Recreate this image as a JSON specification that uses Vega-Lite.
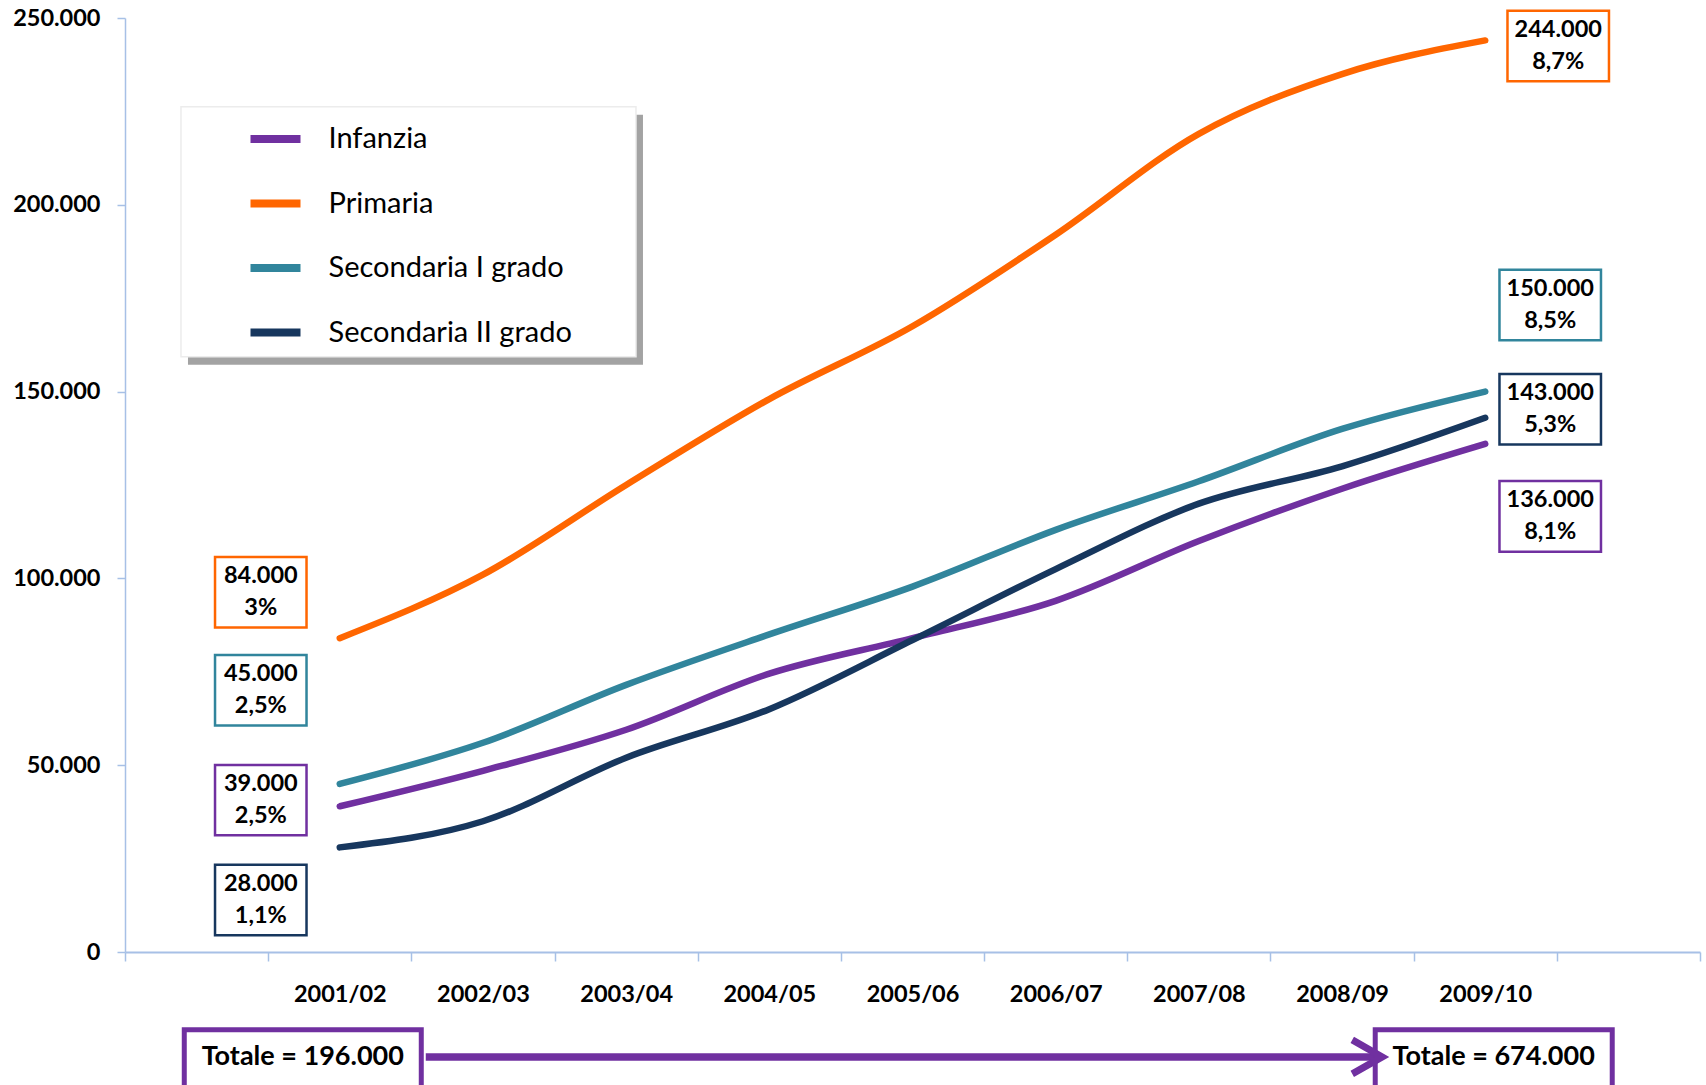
{
  "$schema": "https://vega.github.io/schema/vega-lite/v6.json",
  "width": 1575,
  "height": 934,
  "autosize": {"type": "none"},
  "padding": {"left": 125, "top": 18, "right": 6, "bottom": 133},
  "background": "white",
  "config": {
    "view": {"stroke": null},
    "font": "Lato",
    "locale": {"number": {"decimal": ",", "thousands": ".", "grouping": [3], "currency": ["€", ""]}},
    "axisX": {"domainColor": "#a7c0e6", "domainWidth": 2, "tickColor": "#a7c0e6", "tickWidth": 1.5, "tickSize": 9, "tickBand": "extent", "labelFont": "Lato", "labelFontWeight": "bold", "labelFontSize": 23.5, "labelColor": "#000000", "labelPadding": 21, "labelAngle": 0, "grid": false},
    "axisY": {"domainColor": "#a7c0e6", "domainWidth": 1.5, "tickColor": "#a7c0e6", "tickWidth": 1.5, "tickSize": 8, "labelFont": "Lato", "labelFontWeight": "bold", "labelFontSize": 23.5, "labelColor": "#000000", "labelPadding": 17, "grid": false}
  },
  "datasets": {
    "series": [
      {"series": "Infanzia", "year": "2001/02", "value": 39000},
      {"series": "Infanzia", "year": "2002/03", "value": 48500},
      {"series": "Infanzia", "year": "2003/04", "value": 59500},
      {"series": "Infanzia", "year": "2004/05", "value": 74500},
      {"series": "Infanzia", "year": "2005/06", "value": 84000},
      {"series": "Infanzia", "year": "2006/07", "value": 94000},
      {"series": "Infanzia", "year": "2007/08", "value": 110000},
      {"series": "Infanzia", "year": "2008/09", "value": 124000},
      {"series": "Infanzia", "year": "2009/10", "value": 136000},
      {"series": "Primaria", "year": "2001/02", "value": 84000},
      {"series": "Primaria", "year": "2002/03", "value": 101000},
      {"series": "Primaria", "year": "2003/04", "value": 125000},
      {"series": "Primaria", "year": "2004/05", "value": 148000},
      {"series": "Primaria", "year": "2005/06", "value": 167500},
      {"series": "Primaria", "year": "2006/07", "value": 192000},
      {"series": "Primaria", "year": "2007/08", "value": 219000},
      {"series": "Primaria", "year": "2008/09", "value": 235000},
      {"series": "Primaria", "year": "2009/10", "value": 244000},
      {"series": "Secondaria I grado", "year": "2001/02", "value": 45000},
      {"series": "Secondaria I grado", "year": "2002/03", "value": 56000},
      {"series": "Secondaria I grado", "year": "2003/04", "value": 71500},
      {"series": "Secondaria I grado", "year": "2004/05", "value": 85000},
      {"series": "Secondaria I grado", "year": "2005/06", "value": 97800},
      {"series": "Secondaria I grado", "year": "2006/07", "value": 113000},
      {"series": "Secondaria I grado", "year": "2007/08", "value": 126000},
      {"series": "Secondaria I grado", "year": "2008/09", "value": 140000},
      {"series": "Secondaria I grado", "year": "2009/10", "value": 150000},
      {"series": "Secondaria II grado", "year": "2001/02", "value": 28000},
      {"series": "Secondaria II grado", "year": "2002/03", "value": 35000},
      {"series": "Secondaria II grado", "year": "2003/04", "value": 52000},
      {"series": "Secondaria II grado", "year": "2004/05", "value": 65000},
      {"series": "Secondaria II grado", "year": "2005/06", "value": 83500},
      {"series": "Secondaria II grado", "year": "2006/07", "value": 102500},
      {"series": "Secondaria II grado", "year": "2007/08", "value": 120000},
      {"series": "Secondaria II grado", "year": "2008/09", "value": 130000},
      {"series": "Secondaria II grado", "year": "2009/10", "value": 143000}
    ],
    "startLabels": [
      {"series": "Primaria", "year": "2001/02", "label": "84.000\n3%", "labelAt": 96300},
      {"series": "Secondaria I grado", "year": "2001/02", "label": "45.000\n2,5%", "labelAt": 70050},
      {"series": "Infanzia", "year": "2001/02", "label": "39.000\n2,5%", "labelAt": 40650},
      {"series": "Secondaria II grado", "year": "2001/02", "label": "28.000\n1,1%", "labelAt": 13900}
    ],
    "endLabels": [
      {"series": "Primaria", "year": "2009/10", "label": "244.000\n8,7%", "labelAt": 242500},
      {"series": "Secondaria I grado", "year": "2009/10", "label": "150.000\n8,5%", "labelAt": 173200},
      {"series": "Secondaria II grado", "year": "2009/10", "label": "143.000\n5,3%", "labelAt": 145300},
      {"series": "Infanzia", "year": "2009/10", "label": "136.000\n8,1%", "labelAt": 116600}
    ],
    "totals": [
      {"year": "2001/02", "label": "Totale = 196.000"},
      {"year": "2009/10", "label": "Totale = 674.000"}
    ]
  },
  "layer": [
    {
      "data": {"name": "totals"},
      "transform": [{"filter": "datum.year == '2001/02'"}],
      "mark": {"type": "point", "shape": "M-1,-0.5495H1V0.5495H-1Z", "size": 207025, "filled": true, "fill": "#a3a3a3", "strokeWidth": 0, "opacity": 1, "xOffset": 75.7, "yOffset": 8},
      "encoding": {
        "x": {"field": "year", "type": "nominal", "title": null},
        "y": {"datum": 192781}
      }
    },
    {
      "data": {"name": "totals"},
      "transform": [{"filter": "datum.year == '2001/02'"}],
      "mark": {"type": "point", "shape": "M-1,-0.5495H1V0.5495H-1Z", "size": 207025, "filled": true, "fill": "#ffffff", "stroke": "#ececec", "strokeWidth": 1.5, "opacity": 1, "xOffset": 68.7},
      "encoding": {
        "x": {"field": "year", "type": "nominal", "title": null},
        "y": {"datum": 192781}
      }
    },
    {
      "data": {"name": "series"},
      "mark": {"type": "line", "interpolate": "monotone", "strokeWidth": 6.5, "strokeCap": "round"},
      "encoding": {
        "x": {"field": "year", "type": "nominal", "title": null,
          "scale": {"type": "band", "domain": ["pre", "2001/02", "2002/03", "2003/04", "2004/05", "2005/06", "2006/07", "2007/08", "2008/09", "2009/10", "post"], "paddingInner": 0, "paddingOuter": 0},
          "axis": {"labelExpr": "datum.value == 'pre' || datum.value == 'post' ? '' : datum.label"}},
        "y": {"field": "value", "type": "quantitative", "title": null,
          "scale": {"domain": [0, 250000], "nice": false},
          "axis": {"values": [0, 50000, 100000, 150000, 200000, 250000], "format": ",d"}},
        "color": {"field": "series", "type": "nominal",
          "scale": {"domain": ["Infanzia", "Primaria", "Secondaria I grado", "Secondaria II grado"], "range": ["#7030a0", "#ff6600", "#31859c", "#17375e"]},
          "legend": {"orient": "none", "legendX": 56, "legendY": 81.5, "title": null, "symbolType": "stroke", "symbolStrokeWidth": 8, "symbolSize": 2500, "labelFont": "Lato", "labelFontSize": 29, "labelColor": "#000000", "labelLimit": 500, "padding": 10.5, "rowPadding": 19.5, "symbolOffset": 55, "labelOffset": 24}}
      }
    },
    {
      "data": {"name": "startLabels"},
      "mark": {"type": "point", "shape": "M-1,-0.77H1V0.77H-1Z", "size": 8372, "filled": true, "fill": "#ffffff", "strokeWidth": 2.5, "opacity": 1, "xOffset": -79},
      "encoding": {
        "x": {"field": "year", "type": "nominal", "title": null},
        "y": {"field": "labelAt", "type": "quantitative", "title": null},
        "stroke": {"field": "series", "type": "nominal", "legend": null,
          "scale": {"domain": ["Infanzia", "Primaria", "Secondaria I grado", "Secondaria II grado"], "range": ["#7030a0", "#ff6600", "#31859c", "#17375e"]}}
      }
    },
    {
      "data": {"name": "startLabels"},
      "mark": {"type": "text", "font": "Lato", "fontWeight": "bold", "fontSize": 23.5, "color": "#000000", "lineBreak": "\n", "lineHeight": 32, "align": "center", "baseline": "middle", "xOffset": -79, "dy": -16},
      "encoding": {
        "x": {"field": "year", "type": "nominal", "title": null},
        "y": {"field": "labelAt", "type": "quantitative", "title": null},
        "text": {"field": "label"}
      }
    },
    {
      "data": {"name": "endLabels"},
      "transform": [{"filter": "datum.series != 'Primaria'"}],
      "mark": {"type": "point", "shape": "M-1,-0.695H1V0.695H-1Z", "size": 10302, "filled": true, "fill": "#ffffff", "strokeWidth": 2.5, "opacity": 1, "xOffset": 65},
      "encoding": {
        "x": {"field": "year", "type": "nominal", "title": null},
        "y": {"field": "labelAt", "type": "quantitative", "title": null},
        "stroke": {"field": "series", "type": "nominal", "legend": null,
          "scale": {"domain": ["Infanzia", "Primaria", "Secondaria I grado", "Secondaria II grado"], "range": ["#7030a0", "#ff6600", "#31859c", "#17375e"]}}
      }
    },
    {
      "data": {"name": "endLabels"},
      "transform": [{"filter": "datum.series != 'Primaria'"}],
      "mark": {"type": "text", "font": "Lato", "fontWeight": "bold", "fontSize": 23.5, "color": "#000000", "lineBreak": "\n", "lineHeight": 32, "align": "center", "baseline": "middle", "xOffset": 65, "dy": -16},
      "encoding": {
        "x": {"field": "year", "type": "nominal", "title": null},
        "y": {"field": "labelAt", "type": "quantitative", "title": null},
        "text": {"field": "label"}
      }
    },
    {
      "data": {"name": "endLabels"},
      "transform": [{"filter": "datum.series == 'Primaria'"}],
      "mark": {"type": "point", "shape": "M-1,-0.695H1V0.695H-1Z", "size": 10302, "filled": true, "fill": "#ffffff", "strokeWidth": 2.5, "opacity": 1, "xOffset": 73},
      "encoding": {
        "x": {"field": "year", "type": "nominal", "title": null},
        "y": {"field": "labelAt", "type": "quantitative", "title": null},
        "stroke": {"field": "series", "type": "nominal", "legend": null,
          "scale": {"domain": ["Infanzia", "Primaria", "Secondaria I grado", "Secondaria II grado"], "range": ["#7030a0", "#ff6600", "#31859c", "#17375e"]}}
      }
    },
    {
      "data": {"name": "endLabels"},
      "transform": [{"filter": "datum.series == 'Primaria'"}],
      "mark": {"type": "text", "font": "Lato", "fontWeight": "bold", "fontSize": 23.5, "color": "#000000", "lineBreak": "\n", "lineHeight": 32, "align": "center", "baseline": "middle", "xOffset": 73, "dy": -16},
      "encoding": {
        "x": {"field": "year", "type": "nominal", "title": null},
        "y": {"field": "labelAt", "type": "quantitative", "title": null},
        "text": {"field": "label"}
      }
    },
    {
      "data": {"name": "totals"},
      "transform": [{"filter": "datum.year == '2001/02'"}],
      "mark": {"type": "point", "shape": "M-1,-0.27H1V0.27H-1Z", "size": 56169, "filled": true, "fill": "#ffffff", "stroke": "#7030a0", "strokeWidth": 5, "opacity": 1, "xOffset": -37},
      "encoding": {
        "x": {"field": "year", "type": "nominal", "title": null},
        "y": {"datum": -29400}
      }
    },
    {
      "data": {"name": "totals"},
      "transform": [{"filter": "datum.year == '2009/10'"}],
      "mark": {"type": "point", "shape": "M-1,-0.27H1V0.27H-1Z", "size": 56169, "filled": true, "fill": "#ffffff", "stroke": "#7030a0", "strokeWidth": 5, "opacity": 1, "xOffset": 8.5},
      "encoding": {
        "x": {"field": "year", "type": "nominal", "title": null},
        "y": {"datum": -29400}
      }
    },
    {
      "data": {"name": "totals"},
      "transform": [{"filter": "datum.year == '2001/02'"}],
      "mark": {"type": "text", "font": "Lato", "fontWeight": "bold", "fontSize": 27, "color": "#000000", "align": "center", "baseline": "middle", "xOffset": -37},
      "encoding": {
        "x": {"field": "year", "type": "nominal", "title": null},
        "y": {"datum": -28200},
        "text": {"field": "label"}
      }
    },
    {
      "data": {"name": "totals"},
      "transform": [{"filter": "datum.year == '2009/10'"}],
      "mark": {"type": "text", "font": "Lato", "fontWeight": "bold", "fontSize": 27, "color": "#000000", "align": "center", "baseline": "middle", "xOffset": 8.5},
      "encoding": {
        "x": {"field": "year", "type": "nominal", "title": null},
        "y": {"datum": -28200},
        "text": {"field": "label"}
      }
    },
    {
      "data": {"name": "totals"},
      "transform": [{"filter": "datum.year == '2001/02'"}],
      "mark": {"type": "rule", "color": "#7030a0", "strokeWidth": 7.5, "strokeCap": "butt", "xOffset": 86, "x2Offset": -106},
      "encoding": {
        "x": {"datum": "2001/02"},
        "x2": {"datum": "2009/10"},
        "y": {"datum": -28075}
      }
    },
    {
      "data": {"name": "totals"},
      "transform": [{"filter": "datum.year == '2009/10'"}],
      "mark": {"type": "point", "shape": "M-0.88,-1L0.88,0L-0.88,1", "size": 1156, "filled": false, "stroke": "#7030a0", "strokeWidth": 7, "opacity": 1, "strokeJoin": "miter", "xOffset": -118},
      "encoding": {
        "x": {"field": "year", "type": "nominal", "title": null},
        "y": {"datum": -28075}
      }
    }
  ]
}
